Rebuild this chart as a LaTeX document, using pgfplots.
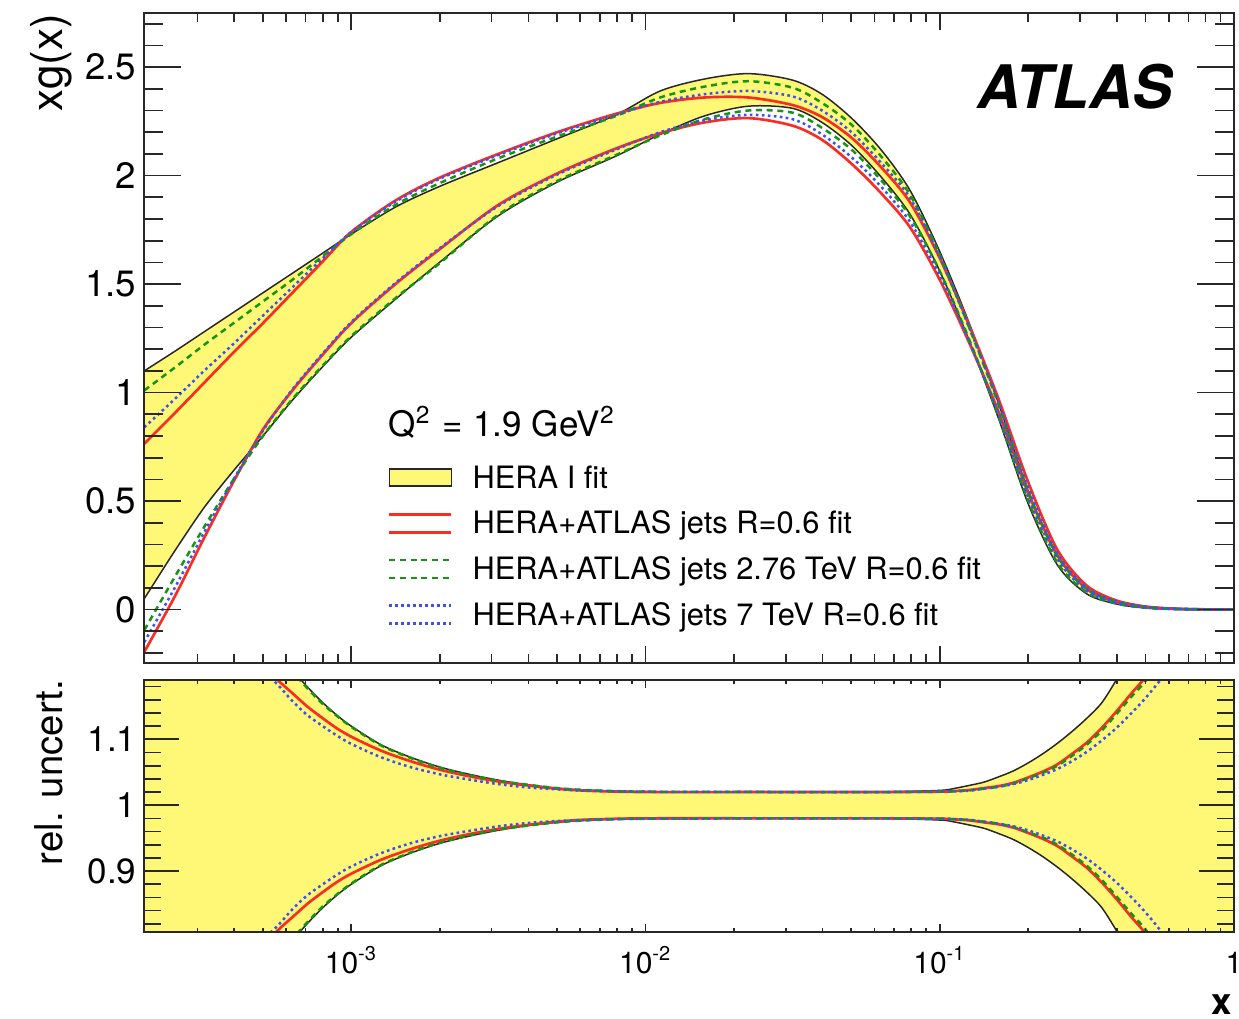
\documentclass[border=0pt]{standalone}
\usepackage{fontspec}
\setmainfont{TeX Gyre Heros}
\usepackage{pgfplots}
\usepackage{pgfplotstable}
\pgfplotsset{compat=1.18}
\usepgfplotslibrary{fillbetween}

\definecolor{herayel}{RGB}{255,248,118}
\definecolor{fitred}{RGB}{250,45,35}
\definecolor{fitgreen}{RGB}{20,150,20}
\definecolor{fitblue}{RGB}{60,80,245}
\definecolor{framec}{RGB}{40,40,40}

% top panel: x, HERA up/low, red up/low, green up/low, blue up/low
\pgfplotstableread{
x HU HL RU RL GU GL BU BL
1.98e-4 1.10 0.05 0.765 -0.195 1.01 -0.095 0.84 -0.15
2.512e-4 1.19 0.27 0.905 0.06 1.115 0.15 0.97 0.10
3.162e-4 1.28 0.47 1.045 0.33 1.22 0.38 1.10 0.355
3.981e-4 1.37 0.64 1.185 0.59 1.32 0.60 1.225 0.60
5.012e-4 1.46 0.80 1.32 0.83 1.42 0.80 1.355 0.825
6.310e-4 1.55 0.965 1.46 1.01 1.52 0.97 1.485 1.015
7.943e-4 1.64 1.115 1.60 1.17 1.625 1.12 1.615 1.175
1.000e-3 1.73 1.255 1.74 1.32 1.73 1.26 1.74 1.325
1.413e-3 1.855 1.43 1.885 1.50 1.865 1.435 1.88 1.505
1.995e-3 1.95 1.60 1.99 1.66 1.965 1.595 1.985 1.665
3.162e-3 2.06 1.815 2.10 1.865 2.08 1.82 2.095 1.86
5.012e-3 2.17 1.97 2.20 2.01 2.18 1.975 2.195 2.005
7.943e-3 2.28 2.09 2.285 2.125 2.275 2.095 2.28 2.12
1.122e-2 2.39 2.19 2.335 2.195 2.36 2.185 2.34 2.20
1.585e-2 2.445 2.275 2.36 2.245 2.41 2.26 2.375 2.255
2.239e-2 2.47 2.32 2.36 2.265 2.435 2.30 2.39 2.28
3.162e-2 2.44 2.31 2.325 2.23 2.405 2.29 2.365 2.26
3.981e-2 2.375 2.245 2.27 2.165 2.335 2.22 2.30 2.19
5.012e-2 2.265 2.14 2.175 2.055 2.235 2.12 2.20 2.085
6.310e-2 2.12 1.995 2.04 1.92 2.09 1.98 2.06 1.95
7.943e-2 1.93 1.82 1.875 1.76 1.91 1.81 1.895 1.785
0.1 1.65 1.56 1.62 1.52 1.635 1.56 1.625 1.54
0.1259 1.32 1.24 1.31 1.23 1.30 1.245 1.30 1.235
0.1585 0.95 0.88 0.97 0.91 0.945 0.89 0.955 0.90
0.1995 0.55 0.49 0.59 0.54 0.55 0.505 0.565 0.52
0.2512 0.245 0.205 0.275 0.25 0.245 0.215 0.258 0.232
0.3162 0.095 0.072 0.11 0.095 0.094 0.078 0.10 0.085
0.3981 0.038 0.026 0.042 0.035 0.036 0.028 0.038 0.031
0.5012 0.013 0.007 0.014 0.011 0.012 0.008 0.012 0.0095
0.6310 0.004 0.002 0.004 0.003 0.0035 0.0025 0.0035 0.0027
0.7943 0.001 0.0005 0.001 0.0008 0.001 0.0006 0.001 0.0007
1.0 0 0 0 0 0 0 0 0
}\topdata

% bottom panel: relative uncertainties
\pgfplotstableread{
x HU HL RU RL GU GL BU BL
1.98e-4 1.90 0.10 1.70 0.30 1.89 0.11 1.65 0.35
3.162e-4 1.45 0.55 1.38 0.62 1.445 0.555 1.36 0.64
3.981e-4 1.33 0.67 1.27 0.73 1.327 0.673 1.26 0.74
5.012e-4 1.26 0.74 1.215 0.785 1.257 0.743 1.205 0.795
5.623e-4 1.23 0.77 1.19 0.81 1.228 0.772 1.183 0.817
6.310e-4 1.205 0.795 1.17 0.83 1.203 0.797 1.158 0.842
7.079e-4 1.18 0.82 1.15 0.85 1.178 0.822 1.137 0.863
7.943e-4 1.157 0.843 1.133 0.867 1.155 0.845 1.121 0.879
8.913e-4 1.137 0.863 1.117 0.883 1.136 0.864 1.106 0.894
1.000e-3 1.12 0.88 1.104 0.896 1.119 0.881 1.093 0.907
1.259e-3 1.092 0.908 1.083 0.917 1.091 0.909 1.073 0.927
1.585e-3 1.073 0.927 1.067 0.933 1.072 0.928 1.058 0.942
1.995e-3 1.058 0.942 1.054 0.946 1.057 0.943 1.047 0.953
2.512e-3 1.047 0.953 1.044 0.956 1.046 0.954 1.039 0.961
3.162e-3 1.038 0.962 1.036 0.964 1.037 0.963 1.032 0.968
3.981e-3 1.031 0.969 1.030 0.970 1.031 0.969 1.027 0.973
5.012e-3 1.026 0.974 1.025 0.975 1.026 0.974 1.024 0.976
6.310e-3 1.023 0.977 1.022 0.978 1.023 0.977 1.022 0.978
1.000e-2 1.0205 0.9795 1.020 0.980 1.0205 0.9795 1.0205 0.9795
3.162e-2 1.020 0.980 1.020 0.980 1.020 0.980 1.020 0.980
6.310e-2 1.0202 0.9798 1.020 0.980 1.020 0.980 1.020 0.980
0.1 1.0225 0.9775 1.0205 0.9795 1.0205 0.9795 1.0205 0.9795
0.1122 1.0255 0.9745 1.0215 0.9785 1.0213 0.9787 1.021 0.979
0.1259 1.030 0.970 1.023 0.977 1.0225 0.9775 1.022 0.978
0.1413 1.035 0.965 1.026 0.974 1.025 0.975 1.025 0.975
0.1585 1.043 0.957 1.029 0.971 1.028 0.972 1.028 0.972
0.1778 1.052 0.948 1.034 0.966 1.033 0.967 1.032 0.968
0.1995 1.064 0.936 1.042 0.958 1.041 0.959 1.038 0.962
0.2239 1.078 0.922 1.051 0.949 1.049 0.951 1.046 0.954
0.2512 1.094 0.906 1.062 0.938 1.060 0.940 1.055 0.945
0.2818 1.112 0.888 1.078 0.922 1.075 0.925 1.067 0.933
0.3162 1.132 0.868 1.095 0.905 1.092 0.908 1.081 0.919
0.3548 1.155 0.845 1.117 0.883 1.113 0.887 1.098 0.902
0.3981 1.19 0.81 1.142 0.858 1.138 0.862 1.117 0.883
0.4467 1.23 0.77 1.169 0.831 1.164 0.836 1.139 0.861
0.5012 1.28 0.72 1.195 0.805 1.189 0.811 1.163 0.837
0.5623 1.33 0.67 1.23 0.77 1.223 0.777 1.19 0.81
0.6310 1.40 0.60 1.27 0.73 1.26 0.74 1.22 0.78
0.7943 1.60 0.40 1.40 0.60 1.39 0.61 1.30 0.70
1.0 1.80 0.20 1.55 0.45 1.53 0.47 1.40 0.60
}\ratdata

\tikzset{
  redline/.style={fitred, line width=0.8pt},
  greenline/.style={fitgreen, line width=0.75pt, dash pattern=on 1.8pt off 1.4pt},
  blueline/.style={fitblue, line width=0.75pt, dash pattern=on 0.8pt off 1.0pt},
  heraline/.style={framec, line width=0.45pt},
}

\begin{document}
\begin{tikzpicture}

% ---------------- top panel ----------------
\begin{axis}[scale only axis, width=326.9pt, height=194.82pt,
  at={(43.29pt,-3.99pt)}, anchor=north west,
  xmode=log, xmin=1.98e-4, xmax=1,
  ymin=-0.245, ymax=2.748,
  axis line style={framec, line width=0.5pt},
  tick style={framec, line width=0.5pt},
  tick align=inside, axis on top,
  ytick={0,0.5,1,1.5,2,2.5}, yticklabels={0,0.5,1,1.5,2,2.5},
  minor ytick={-0.2,-0.1,0.1,0.2,0.3,0.4,0.6,0.7,0.8,0.9,1.1,1.2,1.3,1.4,1.6,1.7,1.8,1.9,2.1,2.2,2.3,2.4,2.6,2.7},
  major tick length=11.1pt, minor tick length=5.7pt,
  xmajorticks=false, xminorticks=false,
  yticklabel style={font=\fontsize{11}{12}\selectfont, inner sep=0pt, xshift=-2.2pt},
  legend style={at={(axis description cs:0.2236,0.3021)}, anchor=north west,
    draw=none, fill=none, inner sep=0pt, outer sep=0pt, row sep=5.4pt,
    font=\fontsize{9.25}{11}\selectfont,
    nodes={inner sep=0pt, text height=6.5pt, text depth=1.8pt},
    /tikz/every odd column/.append style={column sep=6pt}},
  legend cell align=left,
]
\addplot[draw=none, name path=hu, smooth, forget plot] table[x=x,y=HU]{\topdata};
\addplot[draw=none, name path=hl, smooth, forget plot] table[x=x,y=HL]{\topdata};
\addplot[fill=herayel, draw=none, forget plot] fill between[of=hu and hl];
\addplot[heraline, smooth, forget plot] table[x=x,y=HU]{\topdata};
\addplot[heraline, smooth, forget plot] table[x=x,y=HL]{\topdata};
\addplot[redline, smooth, forget plot] table[x=x,y=RU]{\topdata};
\addplot[redline, smooth, forget plot] table[x=x,y=RL]{\topdata};
\addplot[greenline, smooth, forget plot] table[x=x,y=GU]{\topdata};
\addplot[greenline, smooth, forget plot] table[x=x,y=GL]{\topdata};
\addplot[blueline, smooth, forget plot] table[x=x,y=BU]{\topdata};
\addplot[blueline, smooth, forget plot] table[x=x,y=BL]{\topdata};

\addlegendimage{legend image code/.code={\draw[draw=framec,line width=0.45pt,fill=herayel] (0pt,-1.7pt) rectangle (18.6pt,3.4pt);}}
\addlegendentry{HERA I fit}
\addlegendimage{legend image code/.code={\draw[fitred,line width=0.8pt] (0pt,-1.85pt) -- (18.6pt,-1.85pt) (0pt,3.55pt) -- (18.6pt,3.55pt);}}
\addlegendentry{HERA+ATLAS jets R=0.6 fit}
\addlegendimage{legend image code/.code={\draw[fitgreen,line width=0.75pt,dash pattern=on 1.8pt off 1.4pt] (0pt,-1.85pt) -- (18.6pt,-1.85pt) (0pt,3.55pt) -- (18.6pt,3.55pt);}}
\addlegendentry{HERA+ATLAS jets 2.76 TeV R=0.6 fit}
\addlegendimage{legend image code/.code={\draw[fitblue,line width=0.75pt,dash pattern=on 0.8pt off 1.0pt] (0pt,-1.85pt) -- (18.6pt,-1.85pt) (0pt,3.55pt) -- (18.6pt,3.55pt);}}
\addlegendentry{HERA+ATLAS jets 7 TeV R=0.6 fit}
\end{axis}

% x ticks of the top panel
\begin{axis}[scale only axis, width=326.9pt, height=194.82pt,
  at={(43.29pt,-3.99pt)}, anchor=north west,
  xmode=log, xmin=1.98e-4, xmax=1,
  ymin=-0.245, ymax=2.748,
  axis line style={framec, line width=0.5pt},
  tick style={framec, line width=0.5pt},
  tick align=inside,
  ymajorticks=false, yminorticks=false,
  xtick={1e-3,1e-2,1e-1,1}, xticklabels={,,,},
  minor xtick={3e-4,4e-4,5e-4,6e-4,7e-4,8e-4,9e-4,2e-3,3e-3,4e-3,5e-3,6e-3,7e-3,8e-3,9e-3,2e-2,3e-2,4e-2,5e-2,6e-2,7e-2,8e-2,9e-2,0.2,0.3,0.4,0.5,0.6,0.7,0.8,0.9},
  major tick length=5pt, minor tick length=2.5pt]
\end{axis}

% ---------------- bottom panel ----------------
\begin{axis}[scale only axis, width=326.9pt, height=75.51pt,
  at={(43.29pt,-204pt)}, anchor=north west,
  xmode=log, xmin=1.98e-4, xmax=1,
  ymin=0.808, ymax=1.19,
  axis line style={framec, line width=0.5pt},
  tick style={framec, line width=0.5pt},
  tick align=inside, axis on top,
  ytick={0.9,1,1.1}, yticklabels={0.9,1,1.1},
  minor ytick={0.82,0.84,0.86,0.88,0.92,0.94,0.96,0.98,1.02,1.04,1.06,1.08,1.12,1.14,1.16,1.18},
  major tick length=10.5pt, minor tick length=5.1pt,
  xmajorticks=false, xminorticks=false,
  yticklabel style={font=\fontsize{10.5}{12}\selectfont, inner sep=0pt, xshift=-2.2pt},
]
\addplot[draw=none, name path=rhu, smooth, forget plot] table[x=x,y=HU]{\ratdata};
\addplot[draw=none, name path=rhl, smooth, forget plot] table[x=x,y=HL]{\ratdata};
\addplot[fill=herayel, draw=none, forget plot] fill between[of=rhu and rhl];
\addplot[heraline, smooth, forget plot] table[x=x,y=HU]{\ratdata};
\addplot[heraline, smooth, forget plot] table[x=x,y=HL]{\ratdata};
\addplot[redline, smooth, forget plot] table[x=x,y=RU]{\ratdata};
\addplot[redline, smooth, forget plot] table[x=x,y=RL]{\ratdata};
\addplot[greenline, smooth, forget plot] table[x=x,y=GU]{\ratdata};
\addplot[greenline, smooth, forget plot] table[x=x,y=GL]{\ratdata};
\addplot[blueline, smooth, forget plot] table[x=x,y=BU]{\ratdata};
\addplot[blueline, smooth, forget plot] table[x=x,y=BL]{\ratdata};
\end{axis}

% x ticks and labels of the bottom panel
\begin{axis}[scale only axis, width=326.9pt, height=75.51pt,
  at={(43.29pt,-204pt)}, anchor=north west,
  xmode=log, xmin=1.98e-4, xmax=1,
  ymin=0.808, ymax=1.19,
  axis line style={framec, line width=0.5pt},
  tick style={framec, line width=0.5pt},
  tick align=inside,
  ymajorticks=false, yminorticks=false,
  xtick={1e-3,1e-2,1e-1,1},
  xticklabels={10\textsuperscript{-3},10\textsuperscript{-2},10\textsuperscript{-1},1},
  minor xtick={3e-4,4e-4,5e-4,6e-4,7e-4,8e-4,9e-4,2e-3,3e-3,4e-3,5e-3,6e-3,7e-3,8e-3,9e-3,2e-2,3e-2,4e-2,5e-2,6e-2,7e-2,8e-2,9e-2,0.2,0.3,0.4,0.5,0.6,0.7,0.8,0.9},
  xticklabel style={font=\fontsize{9}{10}\selectfont, anchor=base, inner sep=0pt, yshift=-12.4pt},
  major tick length=2.4pt, minor tick length=1.2pt]
\end{axis}

% ---------------- texts ----------------
\begin{scope}[x=0.3pt, y=-0.3pt]
\node[anchor=base west, inner sep=0pt, font=\fontsize{10.5}{12}\selectfont] at (388,436.5)
  {Q\textsuperscript{2}\hspace{3.5pt}=\hspace{3pt}1.9\hspace{3pt}GeV\textsuperscript{2}};
\node[anchor=base, inner sep=0pt, font=\fontsize{18}{20}\selectfont\bfseries\itshape] at (1075,108) {ATLAS};
\node[rotate=90, anchor=base east, inner sep=0pt, font=\fontsize{13.2}{15}\selectfont] at (62.5,13.5) {xg(x)};
\node[rotate=90, anchor=base east, inner sep=0pt, font=\fontsize{11.5}{14}\selectfont] at (62,679) {rel. uncert.};
\node[anchor=base east, inner sep=0pt, font=\fontsize{11}{12}\selectfont\bfseries] at (1233,1014) {x};
\end{scope}

\pgfresetboundingbox
\path[use as bounding box] (0pt,0pt) rectangle (371.7pt,-305.4pt);
\end{tikzpicture}
\end{document}
